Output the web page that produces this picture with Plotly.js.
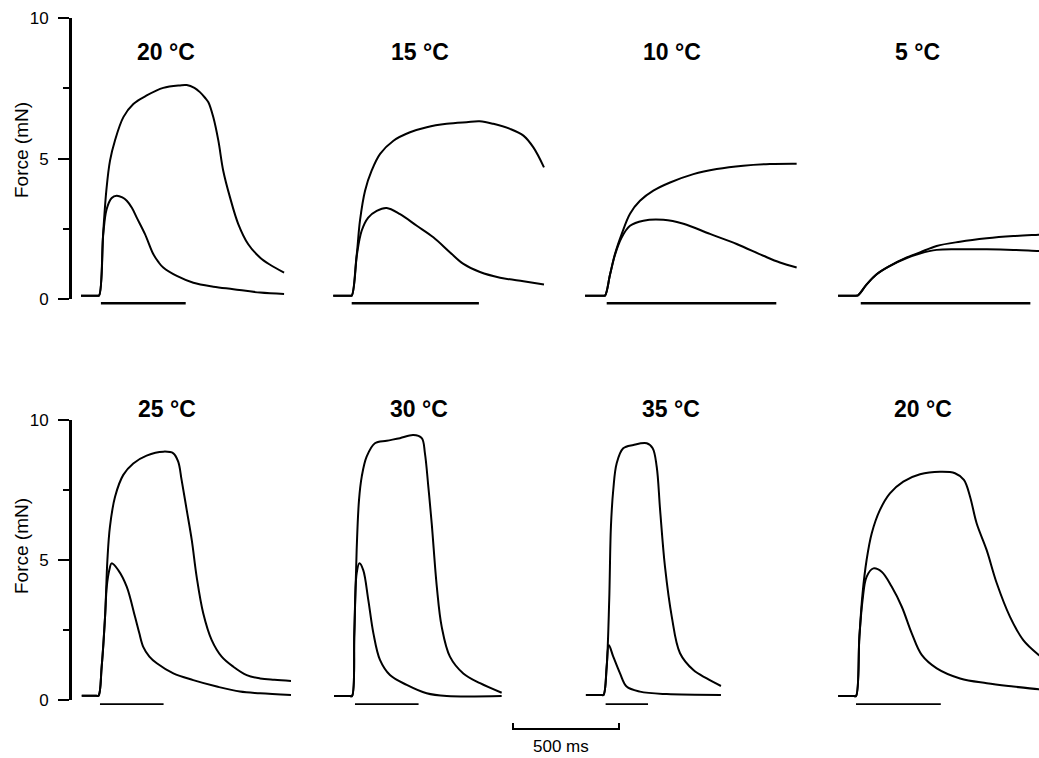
<!DOCTYPE html>
<html>
<head>
<meta charset="utf-8">
<script src="https://cdn.plot.ly/plotly-3.0.1.min.js"></script>
<style>html,body{margin:0;padding:0;background:#fff;}#chart{width:1039px;height:758px;}</style>
</head>
<body>
<div id="chart"></div>
<script>
// ---------------- DATA (time in ms from stimulus onset, force in mN) ----------------
const panelTitles = ['20 °C', '15 °C', '10 °C', '5 °C', '25 °C', '30 °C', '35 °C', '20 °C'];
const yTitle = 'Force (mN)';
const yTickVals = [0, 5, 10];
const yMinorTickVals = [2.5, 7.5];
const scaleBarMs = 500;
const scaleBarLabel = '500 ms';

// stimulus bars
const stimStart = [9, 0, 8, 13, 7, 14, 10, 0];
const stimDur   = [400, 600, 800, 800, 300, 300, 200, 400];
const stimLevel = -0.15;

// Panel A: 20 °C (top)
const tA_up = [-85, -10, 0, 20, 35, 52, 75, 115, 162, 225, 303, 382, 414, 450, 476, 500, 516, 539, 563, 586, 618, 657, 704, 759, 807, 873];
const fA_up = [0.12, 0.12, 0.12, 2.4, 3.9, 4.93, 5.64, 6.48, 6.95, 7.25, 7.52, 7.61, 7.62, 7.52, 7.37, 7.17, 7.01, 6.48, 5.64, 4.57, 3.62, 2.67, 1.95, 1.48, 1.22, 0.94];
const tA_lo = [-85, -10, 0, 20, 36, 60, 83, 110, 131, 155, 178, 217, 256, 280, 303, 367, 445, 539, 634, 759, 873];
const fA_lo = [0.12, 0.12, 0.12, 2.3, 3.2, 3.6, 3.68, 3.62, 3.5, 3.25, 2.9, 2.31, 1.6, 1.32, 1.12, 0.82, 0.58, 0.44, 0.35, 0.23, 0.18];

// Panel B: 15 °C (top)
const tB_up = [-87, -10, 0, 24, 39, 63, 94, 134, 197, 275, 354, 448, 542, 604, 668, 747, 810, 857, 907];
const fB_up = [0.12, 0.12, 0.12, 1.6, 2.79, 3.86, 4.57, 5.17, 5.64, 5.94, 6.12, 6.24, 6.30, 6.33, 6.24, 6.06, 5.82, 5.40, 4.69];
const tB_lo = [-87, -10, 0, 24, 47, 78, 118, 165, 228, 307, 385, 464, 527, 605, 700, 810, 907];
const fB_lo = [0.12, 0.12, 0.12, 1.55, 2.43, 2.9, 3.14, 3.24, 3.02, 2.61, 2.2, 1.66, 1.25, 0.96, 0.76, 0.63, 0.52];

// Panel C: 10 °C (top)
const tC_up = [-94, -10, 0, 24, 47, 79, 118, 165, 228, 307, 417, 527, 652, 778, 904];
const fC_up = [0.12, 0.12, 0.12, 0.88, 1.6, 2.32, 3.04, 3.5, 3.86, 4.15, 4.45, 4.63, 4.75, 4.81, 4.82];
const tC_lo = [-94, -10, 0, 24, 47, 79, 118, 181, 275, 370, 495, 621, 747, 825, 904];
const fC_lo = [0.12, 0.12, 0.12, 0.88, 1.57, 2.2, 2.61, 2.79, 2.82, 2.68, 2.32, 1.96, 1.54, 1.3, 1.12];

// Panel D: 5 °C (top)
const tD_up = [-94, -10, 0, 41, 88, 151, 230, 292, 371, 481, 607, 733, 852, 900];
const fD_up = [0.12, 0.12, 0.13, 0.52, 0.88, 1.18, 1.48, 1.66, 1.89, 2.04, 2.16, 2.24, 2.29, 2.31];
const tD_lo = [-94, -10, 0, 41, 88, 151, 230, 292, 371, 481, 607, 733, 852, 900];
const fD_lo = [0.12, 0.12, 0.13, 0.52, 0.88, 1.18, 1.46, 1.62, 1.75, 1.77, 1.77, 1.75, 1.71, 1.70];

// Panel E: 25 °C (bottom)
const tE_up = [-79, -10, 0, 15, 31, 42, 54, 78, 117, 164, 227, 306, 353, 376, 392, 416, 440, 463, 494, 534, 581, 636, 699, 762, 830, 908];
const fE_up = [0.15, 0.15, 0.15, 1.19, 2.98, 5.0, 6.19, 7.26, 8.04, 8.45, 8.73, 8.87, 8.81, 8.51, 7.86, 6.79, 5.71, 4.4, 3.1, 2.14, 1.55, 1.19, 0.89, 0.77, 0.72, 0.68];
const tE_lo = [-79, -10, 0, 15, 31, 39, 51, 62, 93, 133, 172, 192, 211, 240, 275, 353, 447, 558, 667, 762, 908];
const fE_lo = [0.15, 0.15, 0.15, 1.19, 2.98, 4.05, 4.64, 4.88, 4.64, 4.05, 2.98, 2.4, 1.9, 1.55, 1.31, 0.95, 0.71, 0.48, 0.3, 0.24, 0.18];

// Panel F: 30 °C (bottom)
const tF_up = [-85, -10, 0, 11, 22, 33, 46, 69, 108, 164, 226, 289, 329, 344, 360, 376, 400, 423, 462, 525, 604, 706];
const fF_up = [0.14, 0.14, 0.14, 2.38, 5.36, 7.14, 7.98, 8.69, 9.17, 9.26, 9.35, 9.46, 9.35, 8.81, 7.62, 6.31, 4.05, 2.62, 1.55, 0.95, 0.6, 0.26];
const tF_lo = [-85, -10, 0, 11, 22, 35, 53, 77, 101, 132, 179, 258, 352, 447, 706];
const fF_lo = [0.14, 0.14, 0.14, 2.38, 4.52, 4.88, 4.64, 3.57, 2.38, 1.43, 0.89, 0.54, 0.24, 0.14, 0.14];

// Panel G: 35 °C (bottom)
const tG_up = [-83, -10, 0, 15, 27, 35, 46, 62, 93, 141, 204, 232, 251, 267, 290, 322, 361, 424, 487, 554];
const fG_up = [0.18, 0.18, 0.18, 1.19, 3.57, 6.19, 7.5, 8.45, 8.99, 9.11, 9.17, 8.99, 8.33, 6.79, 4.76, 2.98, 1.67, 1.07, 0.77, 0.5];
const tG_lo = [-83, -10, 0, 15, 25, 46, 78, 109, 172, 298, 554];
const fG_lo = [0.18, 0.18, 0.18, 1.19, 1.96, 1.55, 0.95, 0.48, 0.3, 0.21, 0.18];

// Panel H: 20 °C (bottom)
const tH_up = [-84, -10, 0, 16, 31, 50, 74, 113, 160, 223, 302, 396, 467, 509, 538, 569, 616, 664, 726, 789, 862, 900];
const fH_up = [0.14, 0.14, 0.14, 2.26, 3.81, 5.0, 5.95, 6.79, 7.38, 7.8, 8.06, 8.15, 8.1, 7.86, 7.26, 6.31, 5.36, 4.17, 2.98, 2.14, 1.61, 1.4];
const tH_lo = [-84, -10, 0, 16, 31, 50, 82, 121, 168, 216, 263, 310, 381, 491, 617, 742, 862, 900];
const fH_lo = [0.14, 0.14, 0.14, 2.26, 3.57, 4.4, 4.7, 4.58, 4.05, 3.33, 2.38, 1.61, 1.13, 0.77, 0.6, 0.48, 0.38, 0.36];

const upperT = [tA_up, tB_up, tC_up, tD_up, tE_up, tF_up, tG_up, tH_up];
const upperF = [fA_up, fB_up, fC_up, fD_up, fE_up, fF_up, fG_up, fH_up];
const lowerT = [tA_lo, tB_lo, tC_lo, tD_lo, tE_lo, tF_lo, tG_lo, tH_lo];
const lowerF = [fA_lo, fB_lo, fC_lo, fD_lo, fE_lo, fF_lo, fG_lo, fH_lo];

// ---------------- LAYOUT (pixel geometry) ----------------
const W = 1039, H = 758;
const K = 0.212;                       // px per ms
const colLeft  = [78, 329, 581, 834];
const colRight = [329, 581, 834, 1039];
const onsetPx  = [99, 351.7, 605, 858, 98.5, 352, 603.5, 856];
const rowZeroPx = [299, 700];
const rowTenPx  = [18.3, 420];
const yLo = -0.6, yHi = 10.3;
const titleXPx = [165.5, 420, 672, 917, 167, 419, 671, 923];
const titleYPx = [52, 52, 52, 52, 409, 409, 409, 409];
const FONT = 'Liberation Sans, Arial, Helvetica, sans-serif';

const fx = px => px / W;
const fy = px => 1 - px / H;

const layout = {
  width: W, height: H,
  margin: {l: 0, r: 0, t: 0, b: 0},
  paper_bgcolor: '#fff', plot_bgcolor: 'rgba(0,0,0,0)',
  showlegend: false,
  font: {family: FONT, color: '#000'},
  annotations: []
};
const traces = [];
const line = {color: '#000', width: 2, shape: 'spline', smoothing: 1.0};

for (let i = 0; i < 8; i++) {
  const r = i < 4 ? 0 : 1, c = i % 4;
  const xn = i === 0 ? 'xaxis' : 'xaxis' + (i + 1);
  const yn = i === 0 ? 'yaxis' : 'yaxis' + (i + 1);
  const xr = i === 0 ? 'x' : 'x' + (i + 1);
  const yr = i === 0 ? 'y' : 'y' + (i + 1);
  const ppu = (rowZeroPx[r] - rowTenPx[r]) / 10;
  const botPx = rowZeroPx[r] - yLo * ppu;
  const topPx = rowTenPx[r] - (yHi - 10) * ppu;
  layout[xn] = {
    domain: [fx(colLeft[c]), fx(colRight[c])],
    range: [(colLeft[c] - onsetPx[i]) / K, (colRight[c] - onsetPx[i]) / K],
    visible: false, anchor: yr, fixedrange: true
  };
  layout[yn] = {
    domain: [fy(botPx), fy(topPx)],
    range: [yLo, yHi],
    visible: false, anchor: xr, fixedrange: true
  };
  traces.push({type: 'scatter', mode: 'lines', x: upperT[i], y: upperF[i], xaxis: xr, yaxis: yr, line: line, hoverinfo: 'skip'});
  traces.push({type: 'scatter', mode: 'lines', x: lowerT[i], y: lowerF[i], xaxis: xr, yaxis: yr, line: line, hoverinfo: 'skip'});
  traces.push({type: 'scatter', mode: 'lines',
    x: [stimStart[i], stimStart[i] + stimDur[i]], y: [stimLevel, stimLevel],
    xaxis: xr, yaxis: yr, line: {color: '#000', width: r === 0 ? 2.5 : 1.8}, hoverinfo: 'skip'});
  layout.annotations.push({
    text: '<b>' + panelTitles[i] + '</b>', xref: 'paper', yref: 'paper',
    x: fx(titleXPx[i]), y: fy(titleYPx[i]), xanchor: 'center', yanchor: 'middle',
    showarrow: false, font: {family: FONT, size: 23, color: '#000'}
  });
}

// Force axes (display only), one per row
for (let r = 0; r < 2; r++) {
  const n = 9 + r;
  layout['xaxis' + n] = {domain: [fx(72), fx(74)], range: [0, 1], visible: false, anchor: 'y' + n, fixedrange: true};
  layout['yaxis' + n] = {
    domain: [fy(rowZeroPx[r]), fy(rowTenPx[r])], range: [0, 10], anchor: 'x' + n,
    showline: true, linecolor: '#000', linewidth: 3, mirror: false,
    showgrid: false, zeroline: false,
    tickmode: 'array', tickvals: yTickVals, ticktext: yTickVals.map(String),
    ticks: 'outside', ticklen: 11, tickwidth: 2, tickcolor: '#000',
    ticklabelstandoff: 6,
    minor: {tickmode: 'array', tickvals: yMinorTickVals, ticks: 'outside', ticklen: 6, tickwidth: 2, tickcolor: '#000', showgrid: false},
    tickfont: {family: FONT, size: 17, color: '#000'},
    fixedrange: true
  };
  traces.push({type: 'scatter', mode: 'lines', x: [], y: [], xaxis: 'x' + n, yaxis: 'y' + n, hoverinfo: 'skip'});
  layout.annotations.push({
    text: yTitle, xref: 'paper', yref: 'paper', x: fx(21), y: fy(r === 0 ? 150 : 546),
    xanchor: 'center', yanchor: 'middle', textangle: -90, showarrow: false,
    font: {family: FONT, size: 19, color: '#000'}
  });
}

// 500 ms scale bar
const sbLeft = 505, sbRight = 630, sbZero = 513;
layout.xaxis11 = {domain: [fx(sbLeft), fx(sbRight)], range: [(sbLeft - sbZero) / K, (sbRight - sbZero) / K], visible: false, anchor: 'y11', fixedrange: true};
layout.yaxis11 = {domain: [fy(731), fy(721)], range: [-1 / 3, 4 / 3], visible: false, anchor: 'x11', fixedrange: true};
traces.push({type: 'scatter', mode: 'lines', x: [0, 0, scaleBarMs, scaleBarMs], y: [1, 0, 0, 1],
  xaxis: 'x11', yaxis: 'y11', line: {color: '#000', width: 2}, hoverinfo: 'skip'});
layout.annotations.push({
  text: scaleBarLabel, xref: 'paper', yref: 'paper', x: fx(561), y: fy(746),
  xanchor: 'center', yanchor: 'middle', showarrow: false,
  font: {family: FONT, size: 17, color: '#000'}
});

Plotly.newPlot('chart', traces, layout, {displayModeBar: false, staticPlot: true});
</script>
</body>
</html>
